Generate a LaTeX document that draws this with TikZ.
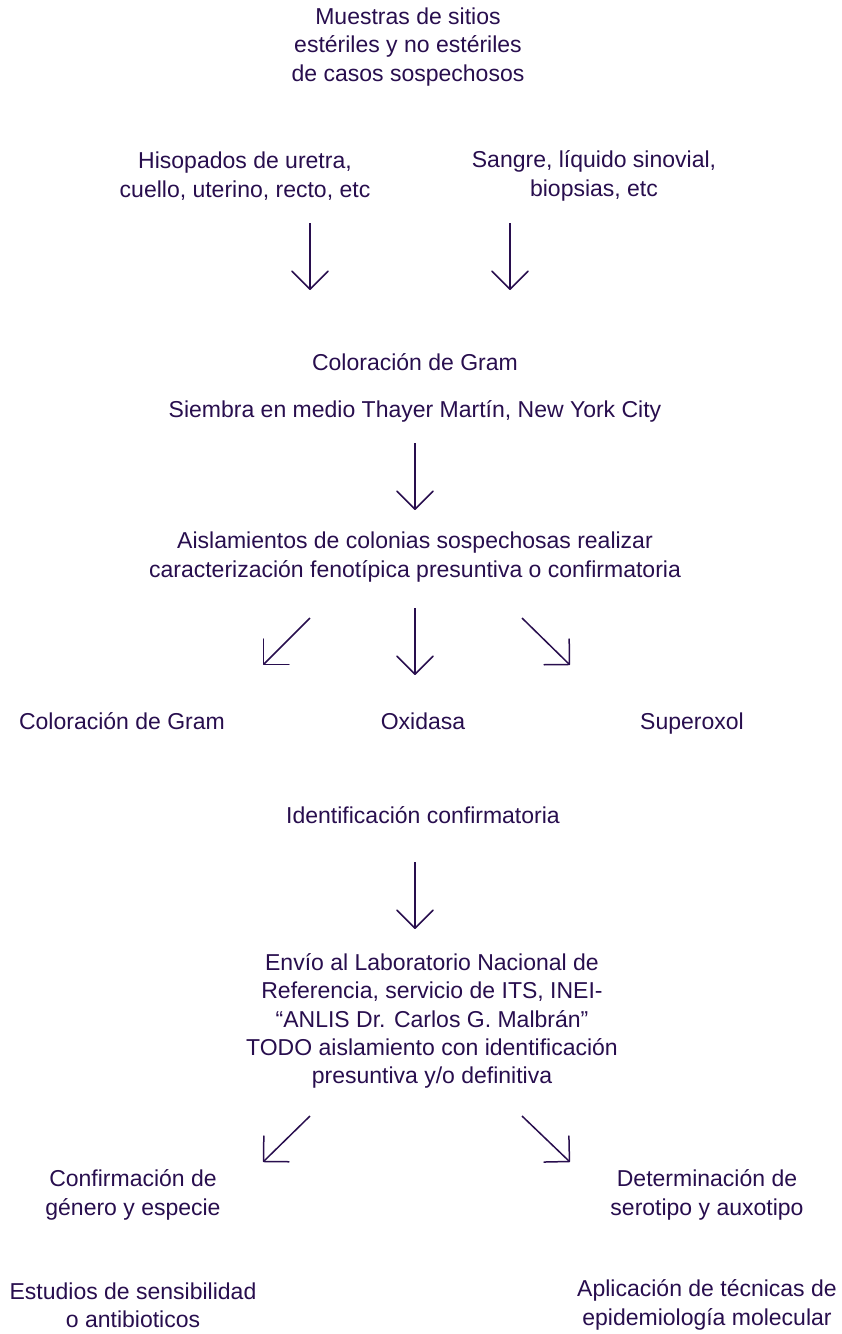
\documentclass[tikz,border=0pt]{standalone}
\usepackage{fontspec}
\setmainfont{Liberation Sans}
\usetikzlibrary{arrows.meta}
\definecolor{ink}{RGB}{40,14,78}
\begin{document}
\begin{tikzpicture}[x=1pt,y=-1pt,
  txt/.style={text=ink,align=center,inner sep=0pt,font=\fontsize{23}{28.3}\selectfont},
  one/.style={txt,text height=17pt,text depth=5pt},
  flow/.style={draw=ink,line width=1.5pt,-{Straight Barb[length=18pt,width=36pt,line width=1.5pt,round]}}]
\useasboundingbox[fill=white] (0,0) rectangle (842,1334);
% text blocks
\node[txt] (muestras) at (408,47) {Muestras de sitios\\estériles y no estériles\\de casos sospechosos};
\node[txt] (hisopados) at (245,176) {Hisopados de uretra,\\cuello, uterino, recto, etc};
\node[txt] (sangre) at (594,176) {Sangre, líquido sinovial,\\biopsias, etc};
\node[one] (gram1) at (415,364) {Coloración de Gram};
\node[one] (siembra) at (415,411) {Siembra en medio Thayer Martín, New York City};
\node[txt] (aisl) at (415,557) {Aislamientos de colonias sospechosas realizar\\caracterización fenotípica presuntiva o confirmatoria};
\node[one] (gram2) at (122,723) {Coloración de Gram};
\node[one] (oxidasa) at (423,723) {Oxidasa};
\node[one] (superoxol) at (692,723) {Superoxol};
\node[one] (ident) at (423,817) {Identificación confirmatoria};
\node[txt] (envio) at (432,1021) {Envío al Laboratorio Nacional de\\Referencia, servicio de ITS, INEI-\\“ANLIS Dr. Carlos G. Malbrán”\\TODO aislamiento con identificación\\presuntiva y/o definitiva};
\node[txt] (confirm) at (133,1195) {Confirmación de\\género y especie};
\node[txt] (determ) at (707,1195) {Determinación de\\serotipo y auxotipo};
\node[txt] (estudios) at (133,1305) {Estudios de sensibilidad\\o antibioticos};
\node[txt] (aplic) at (707,1305) {Aplicación de técnicas de\\epidemiología molecular};
% arrow end points
\coordinate (a1s) at (310,223); \coordinate (a1e) at (310,290);
\coordinate (a2s) at (510,223); \coordinate (a2e) at (510,290);
\coordinate (a3s) at (415,443); \coordinate (a3e) at (415,510);
\coordinate (a4s) at (310,618); \coordinate (a4e) at (263,665);
\coordinate (a5s) at (415,608); \coordinate (a5e) at (415,675);
\coordinate (a6s) at (522,618); \coordinate (a6e) at (570,665);
\coordinate (a7s) at (415,862); \coordinate (a7e) at (415,929);
\coordinate (a8s) at (310,1116); \coordinate (a8e) at (263,1162);
\coordinate (a9s) at (522,1116); \coordinate (a9e) at (570,1162);
% arrows
\draw[flow] (a1s) -- (a1e);
\draw[flow] (a2s) -- (a2e);
\draw[flow] (a3s) -- (a3e);
\draw[flow] (a4s) -- (a4e);
\draw[flow] (a5s) -- (a5e);
\draw[flow] (a6s) -- (a6e);
\draw[flow] (a7s) -- (a7e);
\draw[flow] (a8s) -- (a8e);
\draw[flow] (a9s) -- (a9e);
\end{tikzpicture}
\end{document}
